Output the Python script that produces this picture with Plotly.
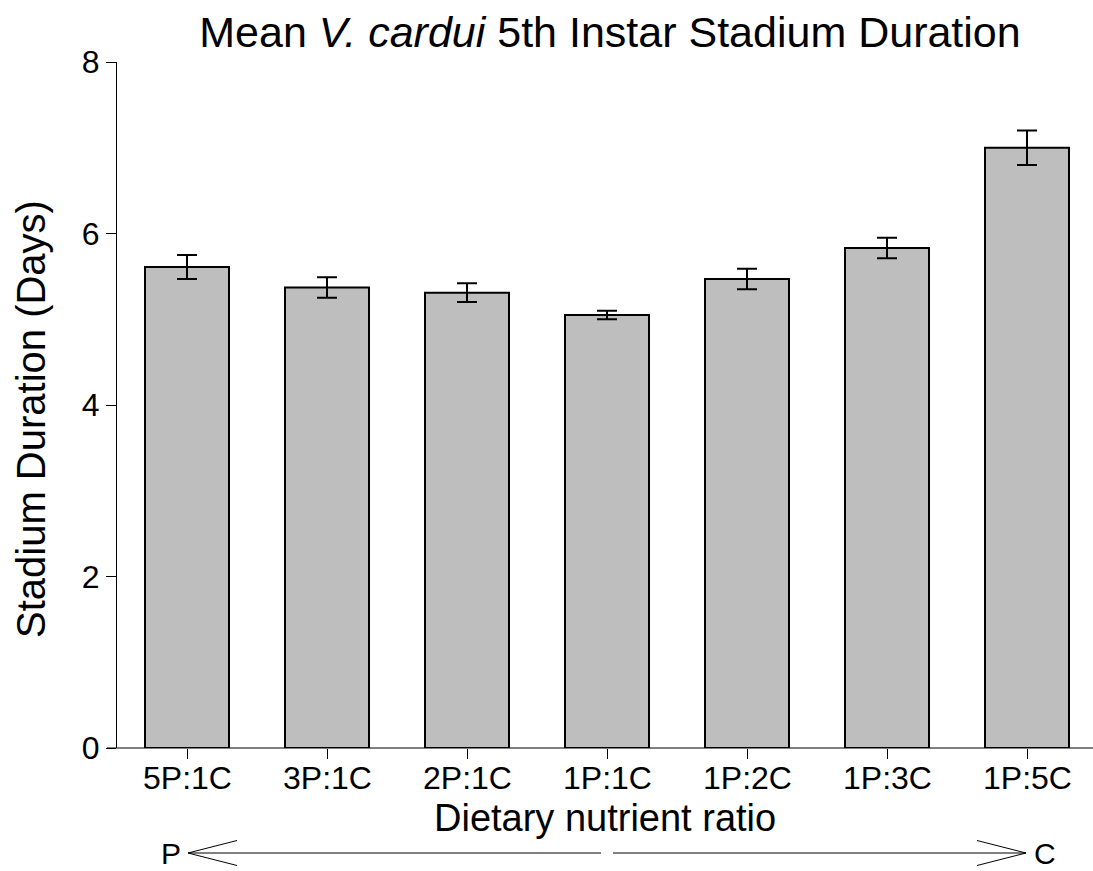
import plotly.graph_objects as go

# Diet treatments (protein : carbohydrate) and 5th instar stadium duration
diets = ["5P:1C", "3P:1C", "2P:1C", "1P:1C", "1P:2C", "1P:3C", "1P:5C"]
mean_days = [5.61, 5.37, 5.31, 5.05, 5.47, 5.83, 7.00]
se_days = [0.14, 0.12, 0.11, 0.05, 0.12, 0.12, 0.20]
y_ticks = [0, 2, 4, 6, 8]

W, H = 1093, 871
L, R, T, B = 117, 0, 62, 123
PW, PH = W - L - R, H - T - B
FONT = "Liberation Sans, Arial, Helvetica, sans-serif"


def px(x):
    return (x - L) / PW


def py(y):
    return (H - B - y) / PH


fig = go.Figure(
    go.Bar(
        x=list(range(len(diets))),
        y=mean_days,
        width=0.6,
        marker=dict(color="#BEBEBE", line=dict(color="black", width=2)),
        error_y=dict(type="data", array=se_days, color="black",
                     thickness=2, width=10),
    )
)

fig.update_layout(
    width=W, height=H,
    margin=dict(l=L, r=R, t=T, b=B),
    plot_bgcolor="white", paper_bgcolor="white",
    showlegend=False,
    font=dict(family=FONT, color="black"),
    title=dict(
        text="Mean <i>V. cardui</i> 5th Instar Stadium Duration",
        x=610 / W, xanchor="center",
        y=1 - 32 / H, yanchor="middle",
        font=dict(size=43, family=FONT, color="black"),
    ),
    xaxis=dict(
        range=[-0.5, -0.5 + PW / 140],
        tickvals=list(range(len(diets))), showticklabels=False,
        showline=False, showgrid=False, zeroline=False,
        ticks="outside", ticklen=10, tickwidth=1, tickcolor="black",
    ),
    yaxis=dict(
        range=[0, 8], tickvals=y_ticks,
        showline=True, linecolor="black", linewidth=1,
        showgrid=False, zeroline=False,
        ticks="outside", ticklen=10, tickwidth=1, tickcolor="black",
        tickfont=dict(size=32, family=FONT, color="black"),
    ),
)

shapes = []
# x axis baseline, running slightly past the y axis
shapes.append(dict(type="line", xref="paper", yref="paper",
                   x0=px(107), x1=1, y0=0, y1=0,
                   line=dict(color="black", width=1)))

# P <-> C direction arrow under the axis title
ya = py(853)
arrow = dict(color="black", width=1)
shapes.append(dict(type="line", xref="paper", yref="paper",
                   x0=px(188), x1=px(601), y0=ya, y1=ya, line=arrow))
shapes.append(dict(type="line", xref="paper", yref="paper",
                   x0=px(613), x1=px(1026), y0=ya, y1=ya, line=arrow))
for tip, back in ((188, 237), (1026, 977)):
    for dy in (-12.5, 12.5):
        shapes.append(dict(type="line", xref="paper", yref="paper",
                           x0=px(tip), x1=px(back), y0=ya, y1=py(853 + dy),
                           line=arrow))
fig.update_layout(shapes=shapes)

# category labels placed just under the tick marks
annotations = [
    dict(text=lab, xref="x", yref="paper", x=i, y=py(778),
         xanchor="center", yanchor="middle", showarrow=False,
         font=dict(size=32, family=FONT, color="black"))
    for i, lab in enumerate(diets)
]
annotations += [
    dict(text="Stadium Duration (Days)", textangle=-90,
         xref="paper", yref="paper", x=px(31), y=py(419),
         xanchor="center", yanchor="middle", showarrow=False,
         font=dict(size=40, family=FONT, color="black")),
    dict(text="Dietary nutrient ratio",
         xref="paper", yref="paper", x=px(605), y=py(818),
         xanchor="center", yanchor="middle", showarrow=False,
         font=dict(size=38, family=FONT, color="black")),
    dict(text="P", xref="paper", yref="paper", x=px(171), y=py(854),
         xanchor="center", yanchor="middle", showarrow=False,
         font=dict(size=30, family=FONT, color="black")),
    dict(text="C", xref="paper", yref="paper", x=px(1045), y=py(854),
         xanchor="center", yanchor="middle", showarrow=False,
         font=dict(size=30, family=FONT, color="black")),
]
fig.update_layout(annotations=annotations)

fig.write_html("out.html")
